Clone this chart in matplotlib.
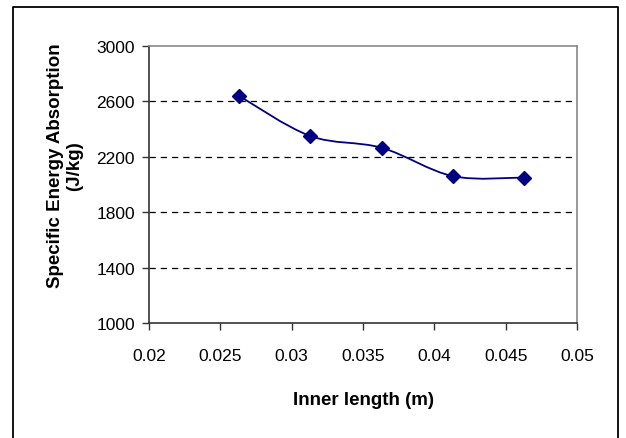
import matplotlib
matplotlib.use("Agg")
import matplotlib.pyplot as plt
from matplotlib.path import Path
from matplotlib.patches import PathPatch
from matplotlib.lines import Line2D

plt.rcParams['font.family'] = ['Liberation Sans', 'DejaVu Sans']

# inner length (m) vs specific energy absorption (J/kg)
inner_length = [0.0263, 0.0313, 0.0363, 0.0413, 0.0463]
sea = [2640, 2350, 2265, 2060, 2050]

x_ticks = [0.02, 0.025, 0.03, 0.035, 0.04, 0.045, 0.05]
x_labels = ['0.02', '0.025', '0.03', '0.035', '0.04', '0.045', '0.05']
y_ticks = [1000, 1400, 1800, 2200, 2600, 3000]

navy = '#000080'

fig = plt.figure(figsize=(6.26, 4.39), dpi=100)
ax = fig.add_axes([0.238, 0.262, 0.684, 0.631])

ax.set_xlim(0.02, 0.05)
ax.set_ylim(1000, 3000)

# smoothed line (catmull-rom style bezier, like spreadsheet smoothing)
verts = [(inner_length[0], sea[0])]
codes = [Path.MOVETO]
n = len(inner_length)
for i in range(n - 1):
    x0, y0 = inner_length[max(i - 1, 0)], sea[max(i - 1, 0)]
    x1, y1 = inner_length[i], sea[i]
    x2, y2 = inner_length[i + 1], sea[i + 1]
    x3, y3 = inner_length[min(i + 2, n - 1)], sea[min(i + 2, n - 1)]
    c1 = (x1 + (x2 - x0) / 6, y1 + (y2 - y0) / 6)
    c2 = (x2 - (x3 - x1) / 6, y2 - (y3 - y1) / 6)
    verts += [c1, c2, (x2, y2)]
    codes += [Path.CURVE4] * 3
ax.add_patch(PathPatch(Path(verts, codes), fill=False, edgecolor=navy, lw=1.3, zorder=3))
ax.plot(inner_length, sea, linestyle='none', marker='D', markersize=7,
        color=navy, zorder=4)

ax.set_xticks(x_ticks)
ax.set_xticklabels(x_labels)
ax.set_yticks(y_ticks)
ax.tick_params(direction='out', length=5, width=1, colors='#333333',
               labelsize=12.5, labelcolor='black', pad=5)
ax.tick_params(axis='x', pad=13)

for y in y_ticks[1:-1]:
    ax.axhline(y, color='black', lw=0.9, linestyle=(0, (5, 4)), zorder=1)

ax.spines['left'].set_color('#333333')
ax.spines['bottom'].set_color('#333333')
ax.spines['top'].set_color('#888888')
ax.spines['right'].set_color('#888888')
for s in ax.spines.values():
    s.set_linewidth(1.2)

ax.set_xlabel('Inner length (m)', fontsize=13.5, fontweight='bold', labelpad=20)
ax.set_ylabel('Specific Energy Absorption\n(J/kg)', fontsize=13.5,
              fontweight='bold', linespacing=1.12)
ax.yaxis.set_label_coords(-0.154, 0.57)

# outer chart border
fig.add_artist(Line2D([13 / 626, 13 / 626, 618 / 626, 618 / 626],
                      [0, 1 - 8 / 439, 1 - 8 / 439, 0],
                      transform=fig.transFigure, color='black', lw=1.3))

fig.savefig('out.png', dpi=100)
